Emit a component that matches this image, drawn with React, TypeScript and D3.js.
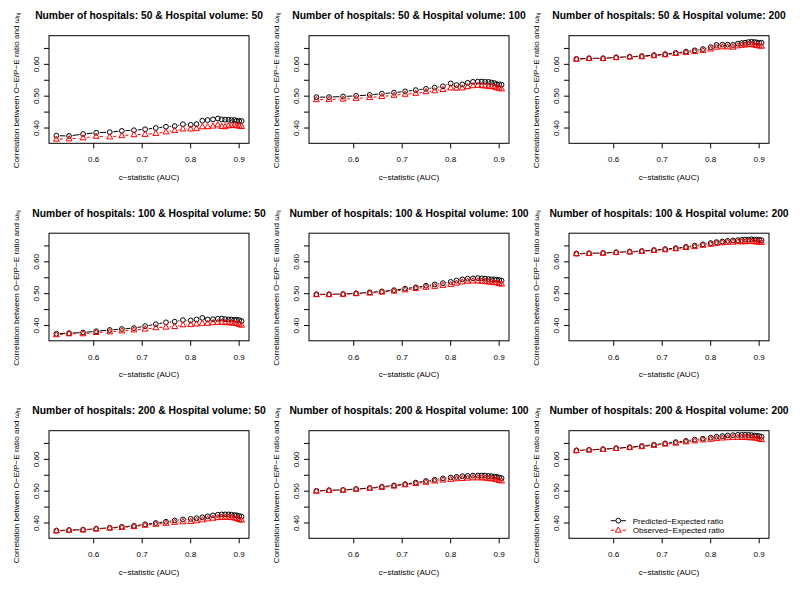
import React from 'react';
import * as d3 from 'd3';

// c-statistic grid shared by all panels
const auc = [0.523, 0.549, 0.578, 0.605, 0.633, 0.658, 0.683, 0.706, 0.728, 0.749, 0.767, 0.784, 0.800,
  0.812, 0.824, 0.835, 0.846, 0.856, 0.864, 0.871, 0.878, 0.884, 0.890, 0.895, 0.900, 0.905];

const hospitals = [50, 100, 200];
const volumes = [50, 100, 200];

// Predicted-Expected (pe) and Observed-Expected (oe) correlations, hospitals x volume
const pe50v50 = [0.376, 0.375, 0.381, 0.385, 0.387, 0.391, 0.393, 0.396, 0.400, 0.404, 0.406, 0.412, 0.410, 0.412, 0.423, 0.425, 0.427, 0.430, 0.427, 0.426, 0.426, 0.425, 0.425, 0.423, 0.422, 0.422];
const oe50v50 = [0.365, 0.366, 0.369, 0.374, 0.372, 0.376, 0.379, 0.380, 0.383, 0.388, 0.392, 0.397, 0.397, 0.398, 0.404, 0.404, 0.406, 0.410, 0.405, 0.404, 0.407, 0.408, 0.409, 0.407, 0.406, 0.405];
const pe50v100 = [0.497, 0.497, 0.499, 0.501, 0.504, 0.508, 0.511, 0.515, 0.519, 0.523, 0.527, 0.531, 0.540, 0.535, 0.537, 0.542, 0.545, 0.546, 0.546, 0.545, 0.545, 0.543, 0.541, 0.538, 0.537, 0.536];
const oe50v100 = [0.489, 0.490, 0.491, 0.493, 0.496, 0.499, 0.503, 0.506, 0.509, 0.514, 0.517, 0.521, 0.526, 0.525, 0.526, 0.530, 0.533, 0.534, 0.533, 0.532, 0.531, 0.530, 0.529, 0.526, 0.525, 0.523];
const pe50v200 = [0.617, 0.619, 0.619, 0.622, 0.624, 0.626, 0.629, 0.632, 0.636, 0.640, 0.644, 0.648, 0.654, 0.661, 0.662, 0.662, 0.661, 0.665, 0.667, 0.668, 0.670, 0.671, 0.670, 0.669, 0.668, 0.668];
const oe50v200 = [0.616, 0.618, 0.618, 0.621, 0.623, 0.624, 0.627, 0.630, 0.634, 0.637, 0.640, 0.643, 0.648, 0.654, 0.655, 0.655, 0.654, 0.658, 0.660, 0.661, 0.662, 0.662, 0.661, 0.659, 0.658, 0.657];

const pe100v50 = [0.374, 0.376, 0.378, 0.382, 0.386, 0.389, 0.392, 0.398, 0.404, 0.410, 0.412, 0.417, 0.416, 0.419, 0.424, 0.419, 0.420, 0.421, 0.422, 0.420, 0.419, 0.419, 0.418, 0.418, 0.417, 0.414];
const oe100v50 = [0.371, 0.374, 0.374, 0.378, 0.380, 0.383, 0.386, 0.389, 0.393, 0.395, 0.397, 0.402, 0.403, 0.405, 0.407, 0.407, 0.409, 0.410, 0.410, 0.409, 0.409, 0.408, 0.407, 0.406, 0.404, 0.401];
const pe100v100 = [0.498, 0.498, 0.499, 0.501, 0.504, 0.507, 0.511, 0.516, 0.520, 0.525, 0.529, 0.533, 0.537, 0.541, 0.545, 0.547, 0.548, 0.549, 0.548, 0.547, 0.546, 0.545, 0.545, 0.544, 0.543, 0.541];
const oe100v100 = [0.497, 0.497, 0.498, 0.500, 0.502, 0.505, 0.508, 0.512, 0.516, 0.520, 0.523, 0.526, 0.529, 0.533, 0.537, 0.539, 0.540, 0.540, 0.539, 0.538, 0.537, 0.536, 0.535, 0.534, 0.532, 0.530];
const pe100v200 = [0.626, 0.627, 0.628, 0.630, 0.632, 0.634, 0.637, 0.640, 0.643, 0.647, 0.651, 0.655, 0.659, 0.662, 0.664, 0.666, 0.667, 0.668, 0.669, 0.670, 0.670, 0.671, 0.670, 0.670, 0.669, 0.668];
const oe100v200 = [0.625, 0.626, 0.627, 0.629, 0.631, 0.633, 0.636, 0.638, 0.641, 0.645, 0.648, 0.652, 0.655, 0.658, 0.660, 0.661, 0.662, 0.663, 0.663, 0.663, 0.664, 0.664, 0.663, 0.663, 0.662, 0.661];

const pe200v50 = [0.376, 0.378, 0.379, 0.382, 0.385, 0.388, 0.391, 0.396, 0.400, 0.404, 0.408, 0.411, 0.413, 0.415, 0.418, 0.421, 0.424, 0.426, 0.427, 0.427, 0.427, 0.426, 0.425, 0.424, 0.422, 0.420];
const oe200v50 = [0.375, 0.377, 0.378, 0.381, 0.384, 0.386, 0.389, 0.393, 0.396, 0.399, 0.402, 0.404, 0.405, 0.407, 0.410, 0.413, 0.415, 0.417, 0.418, 0.418, 0.418, 0.417, 0.416, 0.414, 0.411, 0.409];
const pe200v100 = [0.501, 0.503, 0.504, 0.507, 0.510, 0.514, 0.518, 0.522, 0.527, 0.532, 0.536, 0.540, 0.543, 0.545, 0.547, 0.548, 0.549, 0.549, 0.549, 0.549, 0.548, 0.547, 0.546, 0.545, 0.543, 0.541];
const oe200v100 = [0.500, 0.502, 0.503, 0.506, 0.509, 0.512, 0.516, 0.520, 0.524, 0.528, 0.532, 0.535, 0.537, 0.539, 0.540, 0.541, 0.542, 0.542, 0.542, 0.541, 0.540, 0.539, 0.538, 0.536, 0.534, 0.532];
const pe200v200 = [0.628, 0.630, 0.632, 0.635, 0.638, 0.642, 0.646, 0.650, 0.654, 0.658, 0.662, 0.665, 0.668, 0.671, 0.673, 0.675, 0.676, 0.677, 0.677, 0.677, 0.677, 0.676, 0.675, 0.674, 0.673, 0.671];
const oe200v200 = [0.627, 0.629, 0.631, 0.634, 0.637, 0.640, 0.644, 0.648, 0.651, 0.655, 0.658, 0.661, 0.663, 0.665, 0.667, 0.668, 0.669, 0.669, 0.669, 0.669, 0.668, 0.668, 0.667, 0.666, 0.664, 0.662];

const peRows = [[pe50v50, pe50v100, pe50v200], [pe100v50, pe100v100, pe100v200], [pe200v50, pe200v100, pe200v200]];
const oeRows = [[oe50v50, oe50v100, oe50v200], [oe100v50, oe100v100, oe100v200], [oe200v50, oe200v100, oe200v200]];

const xTicks = [0.6, 0.7, 0.8, 0.9];
const yTicks = [0.4, 0.45, 0.5, 0.55, 0.6, 0.65];
const yLabels = [0.4, 0.5, 0.6];

const FONT = '"Liberation Sans", Arial, Helvetica, sans-serif';
const SMALL = 8.1;
const boxW = 200;
const boxH = 107.6;
const colLeft = (c: number) => 49 + 260 * c;
const rowTop = (r: number) => 35.7 + 197.5 * r;

const x = d3.scaleLinear().domain([0.5077, 0.9203]).range([0, boxW]);
const y = d3.scaleLinear().domain([0.352, 0.69]).range([boxH, 0]);

// R type="b": line pieces with gaps around each point
function gapped(vals: number[], gap: number) {
  const pts = vals.map((v, i) => [x(auc[i]), y(v)]);
  let d = '';
  for (let i = 0; i < pts.length - 1; i++) {
    const [x0, y0] = pts[i];
    const [x1, y1] = pts[i + 1];
    const len = Math.hypot(x1 - x0, y1 - y0);
    if (len <= 2 * gap) continue;
    const ux = (x1 - x0) / len, uy = (y1 - y0) / len;
    d += `M${x0 + ux * gap},${y0 + uy * gap}L${x1 - ux * gap},${y1 - uy * gap}`;
  }
  return d;
}

const tri = 'M0,-3.2L3,2L-3,2Z';

function Panel({ r, c }: { r: number; c: number }) {
  const pe = peRows[r][c];
  const oe = oeRows[r][c];
  const left = colLeft(c);
  const top = rowTop(r);
  return (
    <g transform={`translate(${left},${top})`}>
      <text x={boxW / 2} y={-16.7} textAnchor="middle" fontWeight="bold" fontSize={10.3}>
        {`Number of hospitals: ${hospitals[r]} & Hospital volume: ${volumes[c]}`}
      </text>
      <rect x={0} y={0} width={boxW} height={boxH} fill="none" stroke="#000" strokeWidth={1} />
      {xTicks.map(t => (
        <g key={t}>
          <line x1={x(t)} x2={x(t)} y1={boxH} y2={boxH + 5} stroke="#000" />
          <text x={x(t)} y={boxH + 19} textAnchor="middle" fontSize={SMALL}>{t.toFixed(1)}</text>
        </g>
      ))}
      {yTicks.map(t => (
        <line key={t} x1={-5} x2={0} y1={y(t)} y2={y(t)} stroke="#000" />
      ))}
      {yLabels.map(t => (
        <text key={t} transform={`translate(-10,${y(t)}) rotate(-90)`} textAnchor="middle" fontSize={SMALL}>
          {t.toFixed(2)}
        </text>
      ))}
      <text x={boxW / 2} y={boxH + 36.5} textAnchor="middle" fontSize={SMALL}>c−statistic (AUC)</text>
      <text transform={`translate(-30.5,${boxH / 2 + 1}) rotate(-90)`} textAnchor="middle" fontSize={SMALL}>
        Correlation between O−E/P−E ratio and ω<tspan fontSize={5.5} dy={1.8}>hj</tspan>
      </text>
      <path d={gapped(pe, 3.6)} fill="none" stroke="#000" strokeWidth={1} />
      <path d={gapped(oe, 3.6)} fill="none" stroke="#ff0000" strokeWidth={1} strokeDasharray="3,3" />
      {pe.map((v, i) => (
        <circle key={'p' + i} cx={x(auc[i])} cy={y(v)} r={2.4} fill="none" stroke="#000" strokeWidth={1} />
      ))}
      {oe.map((v, i) => (
        <path key={'o' + i} d={tri} transform={`translate(${x(auc[i])},${y(v)})`} fill="none" stroke="#ff0000" strokeWidth={1} />
      ))}
      {r === 2 && c === 2 && (
        <g>
          <line x1={41.7} x2={46.5} y1={90} y2={90} stroke="#000" />
          <line x1={52.1} x2={57} y1={90} y2={90} stroke="#000" />
          <circle cx={49.3} cy={90} r={2.4} fill="none" stroke="#000" />
          <text x={63.7} y={93} fontSize={SMALL}>Predicted−Expected ratio</text>
          <line x1={41.7} x2={45} y1={99.5} y2={99.5} stroke="#ff0000" />
          <line x1={53.6} x2={57} y1={99.5} y2={99.5} stroke="#ff0000" />
          <path d={tri} transform="translate(49.3,99.5)" fill="none" stroke="#ff0000" />
          <text x={63.7} y={102.5} fontSize={SMALL}>Observed−Expected ratio</text>
        </g>
      )}
    </g>
  );
}

export default function App() {
  const cells: [number, number][] = [];
  for (let r = 0; r < 3; r++) for (let c = 0; c < 3; c++) cells.push([r, c]);
  return (
    <svg width={800} height={590} style={{ position: 'absolute', left: 0, top: 0, background: '#fff' }}
      fontFamily={FONT}>
      <rect width={800} height={590} fill="#fff" />
      {cells.map(([r, c]) => <Panel key={`${r}-${c}`} r={r} c={c} />)}
    </svg>
  );
}
